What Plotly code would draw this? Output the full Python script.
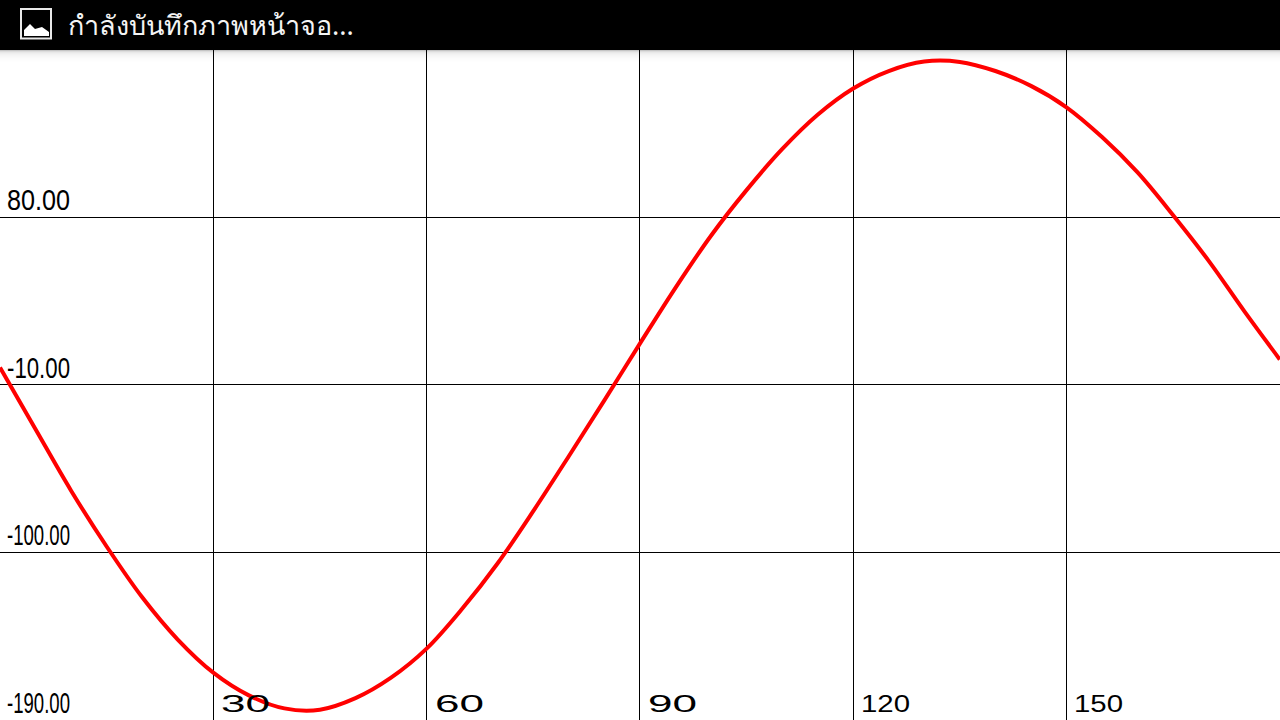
import plotly.graph_objects as go

x_values = [0, 5, 10, 15, 20, 25, 30, 35, 40, 45, 50, 55, 60, 65, 70, 75, 80, 85, 90, 95, 100, 105,
            110, 115, 120, 125, 130, 135, 140, 145, 150, 155, 160, 165, 170, 175, 180]
y_values = [-0.8, -34, -67, -97, -124.3, -147, -164.8, -177, -184, -184.7, -178.5, -167.5, -151.9,
            -130.5, -106, -78, -48.5, -18.5, 12, 42, 70, 94.5, 116.5, 135, 149.1, 158.5, 163.6, 163.4,
            158.5, 150.5, 139, 123, 104, 81, 56.5, 29.5, 3.5]

x_ticks = [30, 60, 90, 120, 150]
y_grid = [80, -10, -100]
y_labelled = [80, -10, -100, -190]
y_labels = ["80.00", "-10.00", "-100.00", "-190.00"]
status_title = "กำลังบันทึกภาพหน้าจอ..."

W, H = 1280, 720
BAR = 50


def px(v):
    return v / W


def py(v):
    return 1 - v / H


fig = go.Figure(go.Scatter(x=x_values, y=y_values, mode="lines", hoverinfo="skip",
                           line=dict(color="#ff0000", width=4, shape="spline", smoothing=1)))

shapes = [dict(type="rect", xref="paper", yref="paper", x0=0, x1=1, y0=py(BAR), y1=1,
               fillcolor="#000000", line_width=0, layer="above")]
for i, c in enumerate(["#c4c4c4", "#dcdcdc", "#e8e8e8", "#eeeeee", "#f2f2f2", "#f5f5f5",
                       "#f7f7f7", "#f9f9f9", "#fbfbfb", "#fcfcfc", "#fdfdfd", "#fefefe"]):
    shapes.append(dict(type="rect", xref="paper", yref="paper", x0=0, x1=1,
                       y0=py(BAR + i + 1), y1=py(BAR + i), fillcolor=c, line_width=0, layer="below"))
shapes.append(dict(type="rect", xref="paper", yref="paper", x0=px(21), x1=px(51),
                   y0=py(38.5), y1=py(9), fillcolor="rgba(0,0,0,0)",
                   line=dict(color="#e8e8e8", width=2), layer="above"))
icon = [(24, 36), (24, 30), (30, 24), (35, 29), (42, 27), (49, 32), (49, 36)]
path = "M " + " L ".join(f"{px(a):.5f},{py(b):.5f}" for a, b in icon) + " Z"
shapes.append(dict(type="path", xref="paper", yref="paper", path=path,
                   fillcolor="#ffffff", line_width=0, layer="above"))

ann = [dict(xref="paper", yref="paper", x=px(66), y=py(25), xanchor="left", yanchor="middle",
            text=status_title, showarrow=False,
            font=dict(family="Noto Sans, DejaVu Sans, sans-serif", size=27, color="#f4f4f4"))]
for v, t in zip(y_labelled, y_labels):
    ann.append(dict(x=0, xref="x", y=v, yref="y", xanchor="left", yanchor="bottom", xshift=5, yshift=-1,
                    text=t, showarrow=False, align="left",
                    font=dict(family="Liberation Sans", size=30, color="#000000")))
for v in x_ticks:
    ann.append(dict(x=v, xref="x", y=0, yref="paper", xanchor="left", yanchor="bottom", xshift=6, yshift=1,
                    text=str(v), showarrow=False, align="left",
                    font=dict(family="Liberation Sans", size=23, color="#000000")))

fig.update_layout(width=W, height=H, margin=dict(l=0, r=0, t=0, b=0), showlegend=False,
                  plot_bgcolor="#ffffff", paper_bgcolor="#ffffff", shapes=shapes, annotations=ann,
                  xaxis=dict(range=[0, 180.03], tickvals=x_ticks, showticklabels=False, ticks="",
                             showgrid=True, gridcolor="#000000", gridwidth=1, zeroline=False),
                  yaxis=dict(range=[-190.23, 196.66], tickvals=y_grid, showticklabels=False, ticks="",
                             showgrid=True, gridcolor="#000000", gridwidth=1, zeroline=False))

# Fit the axis labels to the stretched widths seen in the reference.
post = """
document.body.style.margin = '0';
document.documentElement.style.overflow = 'hidden';
var widths = {'80.00':63,'-10.00':63,'-100.00':63,'-190.00':63,'30':49,'60':49,'90':49,'120':49,'150':49};
document.querySelectorAll('text.annotation-text').forEach(function (t) {
  var w = widths[t.textContent];
  if (w) { t.setAttribute('textLength', w); t.setAttribute('lengthAdjust', 'spacingAndGlyphs'); }
});
"""
fig.write_html("out.html", post_script=post, config=dict(displayModeBar=False))
